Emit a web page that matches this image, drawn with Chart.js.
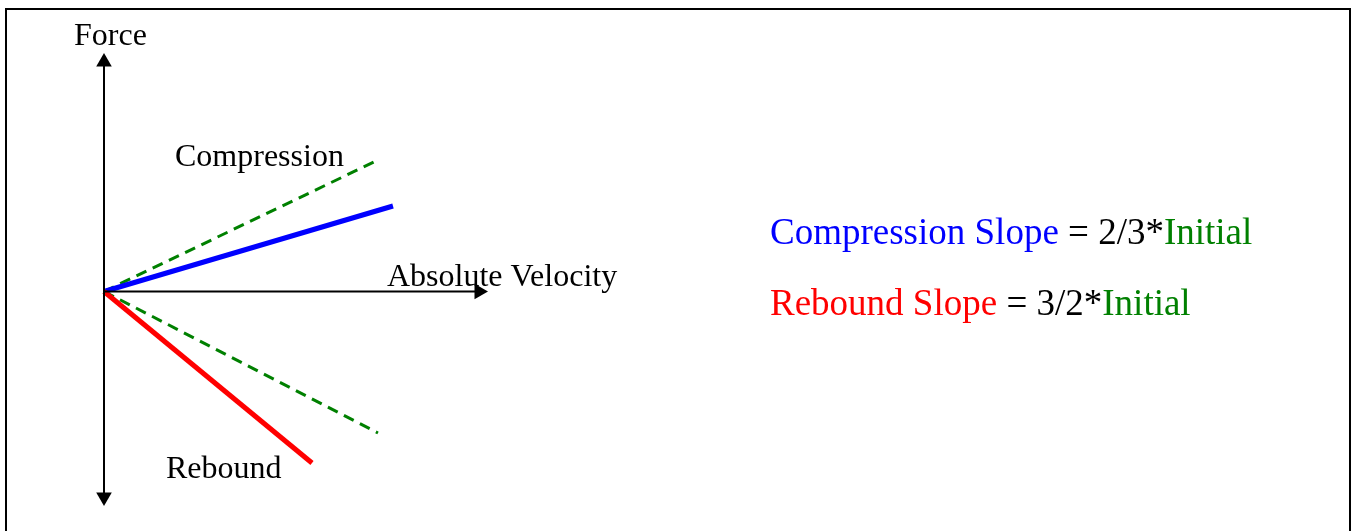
<!DOCTYPE html>
<html>
<head>
<meta charset="utf-8">
<script src="https://cdn.jsdelivr.net/npm/chart.js@4"></script>
<style>
  html, body { margin: 0; padding: 0; background: #fff; }
  #wrap { width: 1354px; height: 531px; }
</style>
</head>
<body>
<div id="wrap"><canvas id="chart" width="1354" height="531"></canvas></div>
<script>
// end points of each line (velocity, force), origin is (0,0)
const initialComp = [{ x: 0, y: 0 }, { x: 2.72, y: 1.305 }];
const compression = [{ x: 0, y: 0 }, { x: 2.89, y: 0.855 }];
const initialReb = [{ x: 0, y: 0 }, { x: 2.74, y: -1.415 }];
const rebound = [{ x: 0, y: 0 }, { x: 2.08, y: -1.715 }];
// axes with arrow heads
const forceAxis = [{ x: 0, y: 2.295 }, { x: 0, y: -2.055 }];
const velocityAxis = [{ x: 0, y: 0 }, { x: 3.75, y: 0 }];

const BLUE = '#0000ff', RED = '#ff0000', GREEN = '#008000', BLACK = '#000000';
const SERIF = '"Liberation Serif", "Times New Roman", serif';

// texts drawn on the diagram
const labels = [
    { text: 'Force', x: -0.30, y: 2.465, size: 32 },
    { text: 'Compression', x: 0.71, y: 1.255, size: 32 },
    { text: 'Absolute Velocity', x: 2.83, y: 0.055, size: 32 },
    { text: 'Rebound', x: 0.62, y: -1.86, size: 32 }
];
const formulas = [
    { y: 0.48, parts: [['Compression Slope', BLUE], [' = 2/3*', BLACK], ['Initial', GREEN]] },
    { y: -0.235, parts: [['Rebound Slope', RED], [' = 3/2*', BLACK], ['Initial', GREEN]] }
];

const textPlugin = {
    id: 'texts',
    beforeDraw(c) {
        const ctx = c.ctx;
        ctx.save();
        ctx.fillStyle = '#fff';
        ctx.fillRect(0, 0, c.width, c.height);
        ctx.strokeStyle = BLACK;
        ctx.lineWidth = 2;
        ctx.strokeRect(6, 9, 1344, 540); // frame, bottom edge is off the picture
        ctx.restore();
    },
    afterDatasetsDraw(c) {
        const ctx = c.ctx;
        const xs = c.scales.x, ys = c.scales.y;
        ctx.save();
        ctx.textBaseline = 'alphabetic';
        ctx.textAlign = 'left';
        labels.forEach(l => {
            ctx.font = l.size + 'px ' + SERIF;
            ctx.fillStyle = BLACK;
            ctx.fillText(l.text, xs.getPixelForValue(l.x), ys.getPixelForValue(l.y));
        });
        ctx.font = '37px ' + SERIF;
        formulas.forEach(f => {
            let px = xs.getPixelForValue(6.66);
            const py = ys.getPixelForValue(f.y);
            f.parts.forEach(p => {
                ctx.fillStyle = p[1];
                ctx.fillText(p[0], px, py);
                px += ctx.measureText(p[0]).width;
            });
        });
        ctx.restore();
    }
};

const config = {
    type: 'scatter',
    data: {
        datasets: [
            {
                data: forceAxis, showLine: true, borderColor: BLACK, backgroundColor: BLACK,
                borderWidth: 2, pointStyle: 'triangle', pointRadius: 9, pointRotation: [0, 180],
                pointBorderWidth: 0
            },
            {
                data: velocityAxis, showLine: true, borderColor: BLACK, backgroundColor: BLACK,
                borderWidth: 2, pointStyle: 'triangle', pointRadius: [0, 9], pointRotation: 90,
                pointBorderWidth: 0
            },
            { data: rebound, showLine: true, borderColor: RED, borderWidth: 5, pointRadius: 0 },
            { data: compression, showLine: true, borderColor: BLUE, borderWidth: 5, pointRadius: 0 },
            { data: initialComp, showLine: true, borderColor: GREEN, borderWidth: 3, borderDash: [11, 7], pointRadius: 0 },
            { data: initialReb, showLine: true, borderColor: GREEN, borderWidth: 3, borderDash: [11, 7], pointRadius: 0 }
        ]
    },
    options: {
        responsive: false,
        animation: false,
        layout: { padding: 0, autoPadding: false },
        plugins: { legend: { display: false }, tooltip: { enabled: false } },
        scales: {
            x: { type: 'linear', min: -1.04, max: 12.5, display: false },
            y: { type: 'linear', min: -2.395, max: 2.915, display: false }
        }
    },
    plugins: [textPlugin]
};

var chart = document.getElementById('chart');
var myChart = new Chart(chart, config);
</script>
</body>
</html>
